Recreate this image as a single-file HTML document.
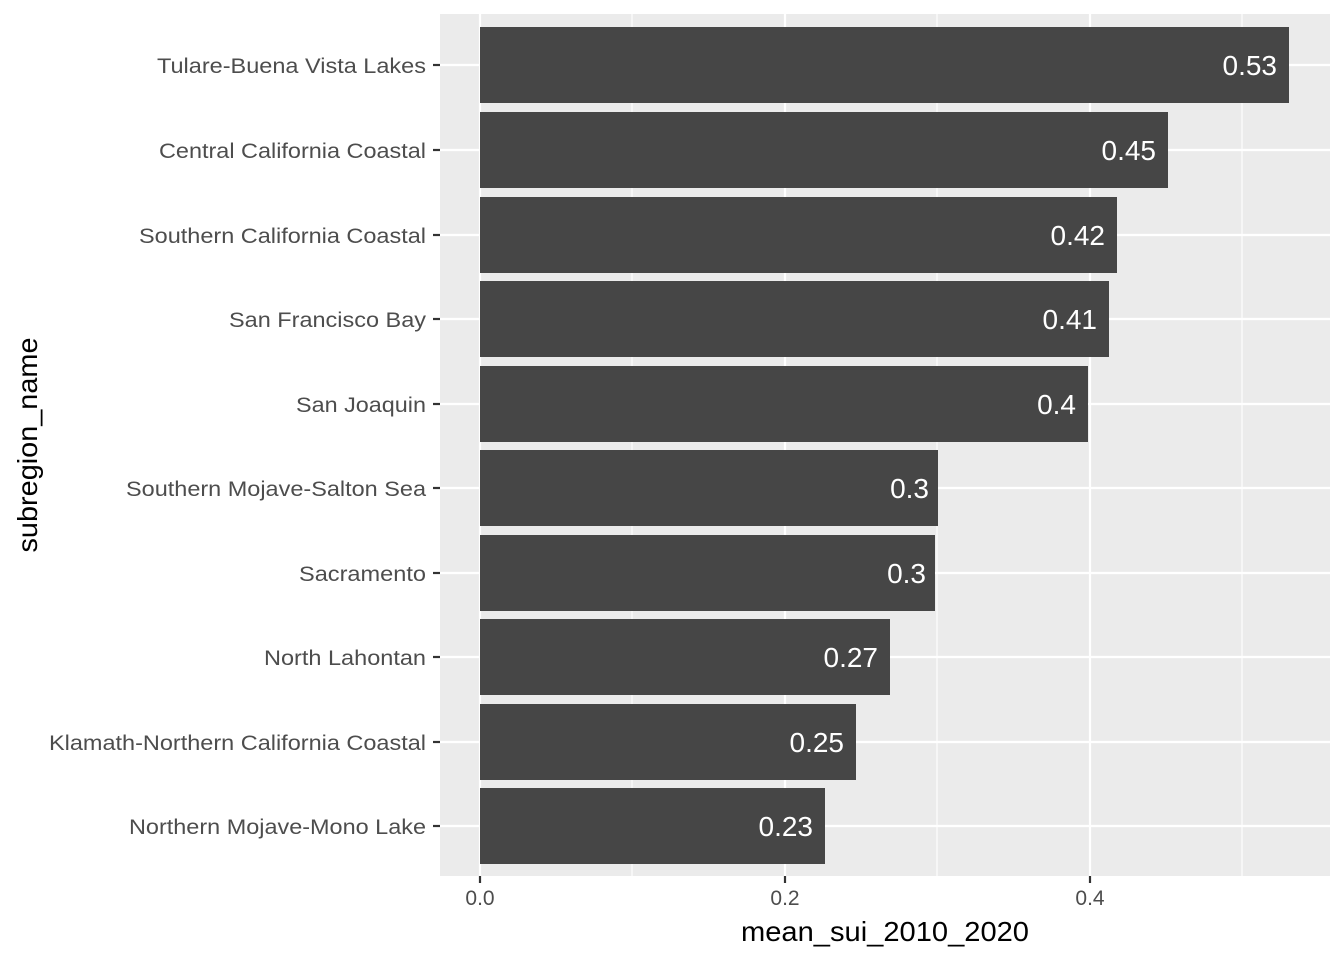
<!DOCTYPE html>
<html><head><meta charset="utf-8"><style>body{margin:0;background:#fff}</style></head><body>
<svg width="1344" height="960" xmlns="http://www.w3.org/2000/svg" font-family="Liberation Sans, sans-serif">
<rect x="440" y="14" width="890" height="862" fill="#ebebeb"/>
<g stroke="#fff" stroke-width="1.1">
<line x1="632" y1="14" x2="632" y2="876"/><line x1="937" y1="14" x2="937" y2="876"/><line x1="1242" y1="14" x2="1242" y2="876"/>
</g>
<g stroke="#fff" stroke-width="2.2">
<line x1="480" y1="14" x2="480" y2="876"/><line x1="785" y1="14" x2="785" y2="876"/><line x1="1090" y1="14" x2="1090" y2="876"/>
<line x1="440" y1="65" x2="1330" y2="65"/><line x1="440" y1="150" x2="1330" y2="150"/><line x1="440" y1="235" x2="1330" y2="235"/><line x1="440" y1="319" x2="1330" y2="319"/><line x1="440" y1="404" x2="1330" y2="404"/><line x1="440" y1="488" x2="1330" y2="488"/><line x1="440" y1="573" x2="1330" y2="573"/><line x1="440" y1="657" x2="1330" y2="657"/><line x1="440" y1="742" x2="1330" y2="742"/><line x1="440" y1="826" x2="1330" y2="826"/>
</g>
<g fill="#464646">
<rect x="480" y="27" width="809" height="76"/><rect x="480" y="112" width="688" height="76"/><rect x="480" y="197" width="637" height="76"/><rect x="480" y="281" width="629" height="76"/><rect x="480" y="366" width="608" height="76"/><rect x="480" y="450" width="458" height="76"/><rect x="480" y="535" width="455" height="76"/><rect x="480" y="619" width="410" height="76"/><rect x="480" y="704" width="376" height="76"/><rect x="480" y="788" width="345" height="76"/>
</g>
<g fill="#fff" font-size="28" text-anchor="end">
<text x="1277" y="75">0.53</text><text x="1156" y="160">0.45</text><text x="1105" y="245">0.42</text><text x="1097" y="329">0.41</text><text x="1076" y="414">0.4</text><text x="929" y="498">0.3</text><text x="926" y="583">0.3</text><text x="878" y="667">0.27</text><text x="844" y="752">0.25</text><text x="813" y="836">0.23</text>
</g>
<g stroke="#333" stroke-width="2.2">
<line x1="433" y1="65" x2="440" y2="65"/><line x1="433" y1="150" x2="440" y2="150"/><line x1="433" y1="235" x2="440" y2="235"/><line x1="433" y1="319" x2="440" y2="319"/><line x1="433" y1="404" x2="440" y2="404"/><line x1="433" y1="488" x2="440" y2="488"/><line x1="433" y1="573" x2="440" y2="573"/><line x1="433" y1="657" x2="440" y2="657"/><line x1="433" y1="742" x2="440" y2="742"/><line x1="433" y1="826" x2="440" y2="826"/>
<line x1="480" y1="876" x2="480" y2="883"/><line x1="785" y1="876" x2="785" y2="883"/><line x1="1090" y1="876" x2="1090" y2="883"/>
</g>
<g fill="#4d4d4d" font-size="21" text-anchor="end">
<text x="426" y="73" textLength="269" lengthAdjust="spacingAndGlyphs">Tulare-Buena Vista Lakes</text><text x="426" y="158" textLength="267" lengthAdjust="spacingAndGlyphs">Central California Coastal</text><text x="426" y="243" textLength="287" lengthAdjust="spacingAndGlyphs">Southern California Coastal</text><text x="426" y="327" textLength="197" lengthAdjust="spacingAndGlyphs">San Francisco Bay</text><text x="426" y="412" textLength="130" lengthAdjust="spacingAndGlyphs">San Joaquin</text><text x="426" y="496" textLength="300" lengthAdjust="spacingAndGlyphs">Southern Mojave-Salton Sea</text><text x="426" y="581" textLength="127" lengthAdjust="spacingAndGlyphs">Sacramento</text><text x="426" y="665" textLength="162" lengthAdjust="spacingAndGlyphs">North Lahontan</text><text x="426" y="750" textLength="377" lengthAdjust="spacingAndGlyphs">Klamath-Northern California Coastal</text><text x="426" y="834" textLength="297" lengthAdjust="spacingAndGlyphs">Northern Mojave-Mono Lake</text>
</g>
<g fill="#4d4d4d" font-size="21" text-anchor="middle">
<text x="480" y="905">0.0</text><text x="785" y="905">0.2</text><text x="1090" y="905">0.4</text>
</g>
<text x="885" y="941" font-size="28" text-anchor="middle" fill="#000" textLength="288" lengthAdjust="spacingAndGlyphs">mean_sui_2010_2020</text>
<text transform="translate(37,445) rotate(-90)" font-size="28" text-anchor="middle" fill="#000" textLength="215" lengthAdjust="spacingAndGlyphs">subregion_name</text>
</svg>
</body></html>
